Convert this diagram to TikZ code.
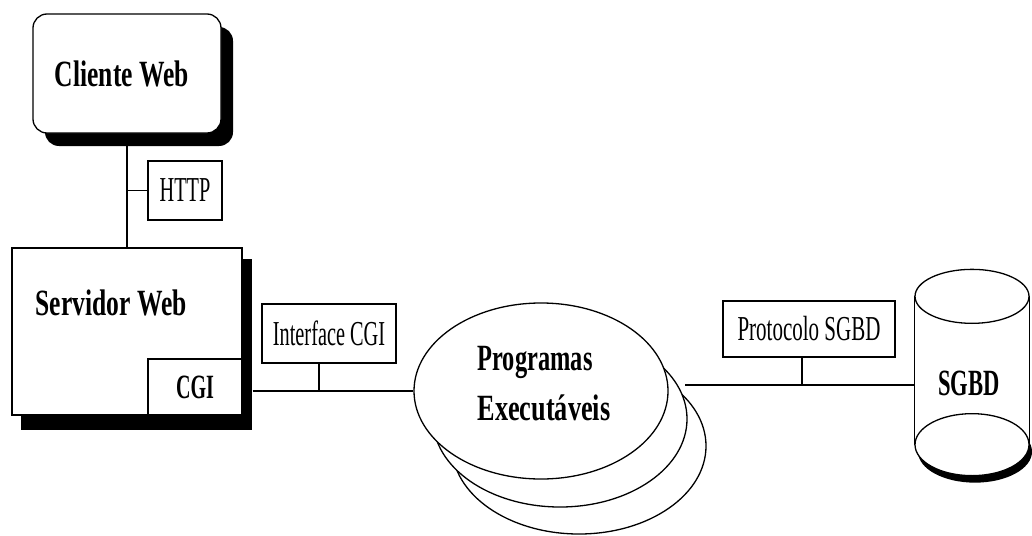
\documentclass[tikz,border=0pt]{standalone}
\usepackage{fontspec}
\setmainfont{Liberation Serif}
\usetikzlibrary{shapes.geometric}
% horizontally condensed text
\newcommand{\squeeze}[2]{\scalebox{#1}[1]{#2}}

\begin{document}
\begin{tikzpicture}[x=1pt,y=-1pt,
  line width=1.3pt,
  box/.style={draw,fill=white,rectangle,inner sep=0pt},
  shadowbox/.style={fill=black,rectangle,inner sep=0pt},
  prog/.style={draw,fill=white,ellipse,inner sep=0pt,minimum width=254pt,minimum height=176pt},
  bigbold/.style={font=\fontsize{37}{40}\selectfont\bfseries,inner sep=0pt},
  midbold/.style={font=\fontsize{34}{38}\selectfont\bfseries,inner sep=0pt},
  plain/.style={font=\fontsize{35}{38}\selectfont,inner sep=0pt},
]
\useasboundingbox (0,0) rectangle (1032,535);

% --- web client ---
\node[shadowbox, rounded corners=14pt, minimum width=188pt, minimum height=119pt] (clishadow) at (139,86.5) {};
\node[box, rounded corners=14pt, minimum width=188pt, minimum height=119pt] (cliente) at (127,73.5) {};
\node[bigbold] (clilabel) at (122,73.5) {\squeeze{0.69}{Cliente Web}};

% --- web server with CGI part ---
\node[shadowbox, minimum width=231pt, minimum height=171pt] (servshadow) at (136.5,344.5) {};
\node[box, minimum width=230pt, minimum height=167pt] (servidor) at (127,331.5) {};
\node[box, minimum width=94pt, minimum height=56pt, anchor=south east, midbold] (cgi) at (servidor.south east) {\squeeze{0.59}{CGI}};
\node[bigbold, anchor=base west] (servlabel) at (35,315) {\squeeze{0.69}{Servidor Web}};

% --- protocol labels ---
\node[box, minimum width=74pt, minimum height=59pt, plain] (http) at (185,190.5) {\squeeze{0.58}{HTTP}};
\node[box, minimum width=134pt, minimum height=59pt, plain] (iface) at (329,333.5) {\squeeze{0.58}{Interface CGI}};
\node[box, minimum width=172pt, minimum height=56pt, plain] (proto) at (809,329) {\squeeze{0.6}{Protocolo SGBD}};

% --- stacked executable programs ---
\node[prog] (prog3) at (579,446) {};
\node[prog] (prog2) at (560,419) {};
\node[prog] (prog1) at (541,391) {};
\node[bigbold, anchor=base west] (proglabel1) at (477,370) {\squeeze{0.66}{Programas}};
\node[bigbold, anchor=base west] (proglabel2) at (477,420) {\squeeze{0.71}{Executáveis}};

% --- database cylinder ---
\node[rectangle, inner sep=0pt, minimum width=114pt, minimum height=147pt] (db) at (972,370.5) {};
\fill[black] ([shift={(3,7)}]db.south) ellipse [x radius=57, y radius=31];
\draw[fill=white] (db.south) ellipse [x radius=57, y radius=31];
\draw (db.north west) -- (db.south west);
\draw (db.north east) -- (db.south east);
\draw[fill=white] (db.north) ellipse [x radius=57, y radius=27];
\node[bigbold, anchor=base] (dblabel) at (969,395) {\squeeze{0.61}{SGBD}};

% --- connectors ---
\draw (cliente.south) -- (servidor.north);
\draw (http.west) -- (http.west -| cliente.south);
\draw (servshadow.east |- prog1.west) -- (prog1.west);
\draw ([xshift=-10pt]iface.south) -- ([xshift=-10pt]iface.south |- prog1.west);
\coordinate (pright) at (685,385);
\draw (pright) -- (pright -| db.west);
\draw ([xshift=-7pt]proto.south) -- ([xshift=-7pt]proto.south |- pright);
\end{tikzpicture}
\end{document}
